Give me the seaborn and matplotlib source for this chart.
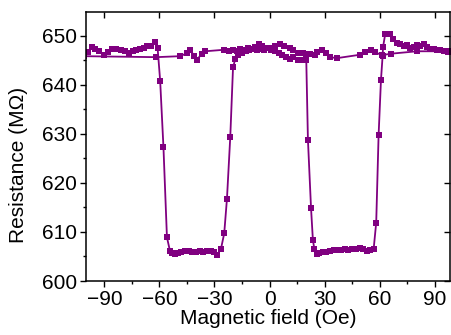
import numpy as np
import pandas as pd
import matplotlib
matplotlib.use("Agg")
import matplotlib.pyplot as plt
import seaborn as sns
from matplotlib.ticker import MultipleLocator

# Forward sweep (-100 -> +98 Oe): shows both resistance dips
fwd_field = [-99, -96.8, -95, -93, -90, -88, -86, -83.5, -81, -78.5, -76.5, -74.5, -73, -70.5, -68.5, -66.8, -64.5, -62.2,
             -61, -59.6, -57.8, -55.9, -54.3, -53, -51.4, -50, -48, -46, -44, -42, -40, -38, -36, -34, -32, -30,
             -28.7, -26.5, -24.7, -23.2, -21.4, -19.9, -18.7, -17, -15, -13, -11, -9, -7, -5, -3, -1, 1, 3, 5, 7,
             9, 11.3, 13, 15.6, 17.5, 20.0, 20.9, 22.6, 23.6, 24.4, 25.8, 27, 29, 31, 33, 35, 37, 39, 41, 43, 45,
             47, 49, 51, 53, 54.9, 56.7, 58.1, 59.4, 60.7, 61.6, 61.8, 63, 65.4, 67.2, 69.4, 71, 73, 75, 76.7, 78.5,
             80.5, 82, 84, 86, 87.6, 89.5, 91, 93, 95, 97.4]
fwd_res = [646.6, 647.7, 647.3, 646.8, 646.1, 646.6, 647.3, 647.2, 647.1, 646.9, 646.5, 646.9, 647.1, 647.3, 647.4, 647.8, 647.9, 648.6,
           647.5, 640.8, 627.2, 608.9, 606.2, 605.8, 605.4, 605.7, 606.0, 606.2, 606.1, 606.0, 606.0, 606.1, 606.0, 606.2, 606.1, 606.0,
           605.3, 606.5, 609.7, 616.8, 629.4, 643.5, 645.2, 646.0, 646.5, 646.8, 647.0, 647.2, 647.0, 647.3, 647.0, 647.4, 647.1, 646.8, 646.5, 646.0,
           645.6, 645.2, 645.6, 645.1, 645.0, 645.0, 628.8, 614.8, 608.4, 606.5, 605.5, 605.8, 606.0, 606.0, 606.2, 606.3, 606.4, 606.4, 606.5, 606.4, 606.6,
           606.5, 606.7, 606.5, 606.2, 606.3, 606.5, 611.9, 629.7, 641.0, 645.9, 647.6, 650.3, 650.3, 649.3, 648.5, 648.3, 647.8, 648.0, 647.5, 647.7,
           648.0, 647.9, 648.2, 647.6, 647.3, 647.2, 647.0, 647.1, 646.8, 646.6]

# Return sweep (+98 -> -100 Oe): stays high
ret_field = [98, 80.3, 66, 61.2, 57.6, 55, 52, 49.4, 36.7, 33, 30.5, 28.5, 26, 24.9, 22, 20, 18, 15.6, 13, 11.3, 8, 5.8,
             3, 1, -2.3, -4, -6, -8, -10, -12, -14, -16, -18, -20, -22, -25, -35, -37, -39.6, -41, -43.2, -45, -48.7, -61.7, -101]
ret_res = [646.8, 646.8, 646.3, 646.0, 646.6, 647.1, 646.6, 646.1, 645.4, 645.6, 646.5, 647.1, 646.6, 646.1, 646.3, 646.2, 646.5, 646.5, 647.0, 647.5, 647.9, 648.2,
           647.8, 647.5, 647.5, 647.8, 648.2, 647.6, 647.2, 647.5, 647.0, 647.2, 646.8, 647.0, 646.9, 647.1, 646.8, 646.2, 645.1, 645.8, 647.1, 646.4, 645.8, 645.6, 645.8]

x_ticks = [-90, -60, -30, 0, 30, 60, 90]
y_ticks = [600, 610, 620, 630, 640, 650]

df = pd.concat([
    pd.DataFrame({"field": fwd_field, "res": fwd_res, "sweep": "forward"}),
    pd.DataFrame({"field": ret_field, "res": ret_res, "sweep": "return"}),
], ignore_index=True)

sns.set_theme(style="ticks")
plt.rcParams['font.family'] = ['Liberation Sans', 'DejaVu Sans']
plt.rcParams['text.color'] = 'black'
plt.rcParams['axes.labelcolor'] = 'black'

fig = plt.figure(figsize=(4.51, 3.35), dpi=100)
ax = fig.add_axes([86/451, (335-281)/335, (450-86)/451, (281-12)/335])

purple = '#800080'
sns.lineplot(data=df, x="field", y="res", units="sweep", estimator=None, sort=False,
             color=purple, marker='s', markersize=5, markeredgewidth=0, linewidth=1.3, ax=ax)

ax.set_xlim(-100, 98.3)
ax.set_ylim(600, 654.8)
ax.set_xticks(x_ticks)
ax.set_yticks(y_ticks)
ax.xaxis.set_minor_locator(MultipleLocator(15))
ax.yaxis.set_minor_locator(MultipleLocator(5))

for s in ax.spines.values():
    s.set_linewidth(1.1)
    s.set_color('black')

ax.tick_params(axis='both', which='both', direction='out', colors='black', labelcolor='black',
               width=1.0, labelsize=15, pad=2)
ax.tick_params(which='major', length=4.5)
ax.tick_params(which='minor', length=2.5)
ax.tick_params(top=True, right=True, labeltop=False, labelright=False)
# ticks on top/right point inward
for t in ax.xaxis.get_major_ticks() + ax.xaxis.get_minor_ticks():
    t.tick2line.set_marker(matplotlib.lines.TICKDOWN)
for t in ax.yaxis.get_major_ticks() + ax.yaxis.get_minor_ticks():
    t.tick2line.set_marker(matplotlib.lines.TICKLEFT)

ax.set_xlabel("Magnetic field (Oe)", fontsize=15, labelpad=0, color='black')
ax.set_ylabel("Resistance (MΩ)", fontsize=15, color='black')
ax.yaxis.set_label_coords(-0.16, 0.43)
if ax.get_legend() is not None:
    ax.get_legend().remove()

fig.savefig("out.png", dpi=100)
